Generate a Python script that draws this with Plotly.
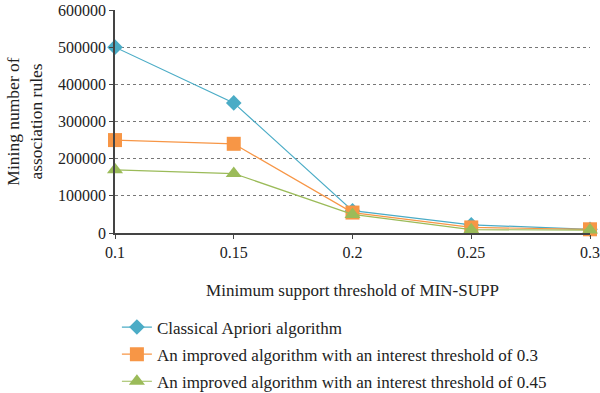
import plotly.graph_objects as go

support = [0.1, 0.15, 0.2, 0.25, 0.3]
classical = [500000, 350000, 60000, 22000, 10000]
improved_03 = [250000, 240000, 55000, 15000, 10000]
improved_045 = [170000, 160000, 50000, 9000, 8000]
names = ["Classical Apriori algorithm",
         "An improved algorithm with an interest threshold of 0.3",
         "An improved algorithm with an interest threshold of 0.45"]
colors = ["#4BACC6", "#F79646", "#9BBB59"]
symbols = ["diamond", "square", "triangle-up"]
sizes = [12, 14, 14]

fig = go.Figure()
for i, (ys, n, c, s, sz) in enumerate(zip([classical, improved_03, improved_045], names, colors, symbols, sizes)):
    fig.add_trace(go.Scatter(x=support, y=ys, name=n, mode="lines+markers", legendgroup=f"g{i}",
                             line=dict(color=c, width=1.2),
                             marker=dict(symbol=s, size=sz, color=c),
                             cliponaxis=False))

font = "Liberation Serif"
tickfont = dict(family=font, size=16, color="#222")
fig.update_layout(
    width=600, height=393,
    margin=dict(l=115, r=10, t=10, b=160, autoexpand=False),
    paper_bgcolor="white", plot_bgcolor="white",
    font=dict(family=font, size=16, color="#222"),
    showlegend=True,
    legend=dict(x=0.004, y=-0.343, xanchor="left", yanchor="top",
                font=dict(family=font, size=17, color="#222"), tracegroupgap=2, itemwidth=30),
    xaxis=dict(range=[0.1, 0.3], tickvals=support, ticktext=["0.1", "0.15", "0.2", "0.25", "0.3"],
               tickfont=tickfont,
               showline=True, linecolor="#444", linewidth=1.5, ticks="outside", ticklen=4,
               tickcolor="#444", showgrid=False, zeroline=False,
               title=dict(text="Minimum support threshold of MIN-SUPP", standoff=24,
                          font=dict(family=font, size=17, color="#222"))),
    yaxis=dict(range=[0, 600000], tickvals=[0, 100000, 200000, 300000, 400000, 500000, 600000],
               ticktext=["0", "100000", "200000", "300000", "400000", "500000", "600000"],
               tickfont=tickfont,
               showline=True, linecolor="#444", linewidth=1.5, ticks="outside", ticklen=4,
               tickcolor="#444", showgrid=True, gridcolor="#777", griddash="dot", gridwidth=1,
               zeroline=False,
               title=dict(text="Mining number of<br>association rules", standoff=11,
                          font=dict(family=font, size=17.5, color="#222"))),
)
fig.write_html("out.html", config={"displayModeBar": False},
               post_script="document.body.style.margin='0';document.body.style.padding='0';")
